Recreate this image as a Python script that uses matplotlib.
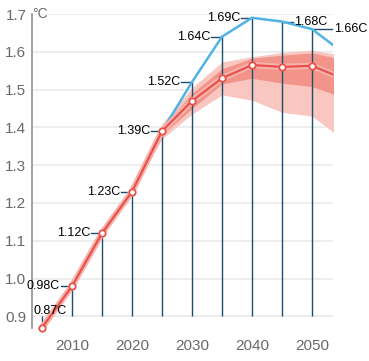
import matplotlib
matplotlib.use("Agg")
import matplotlib.pyplot as plt
from matplotlib.patches import Rectangle

plt.rcParams['font.family'] = ['Liberation Sans', 'DejaVu Sans']

# ---- data ----
years = [2005, 2010, 2015, 2020, 2025, 2030, 2035, 2040, 2045, 2050, 2055]
red_vals = [0.87, 0.98, 1.12, 1.23, 1.39, 1.47, 1.53, 1.565, 1.56, 1.563, 1.53]
blue_years = [2020, 2025, 2030, 2035, 2040, 2045, 2050, 2055]
blue_vals = [1.23, 1.39, 1.52, 1.64, 1.69, 1.68, 1.66, 1.60]
band_years = [2020, 2025, 2030, 2035, 2040, 2045, 2050, 2055]
inner_low = [1.23, 1.38, 1.45, 1.515, 1.53, 1.517, 1.508, 1.48]
inner_high = [1.23, 1.40, 1.49, 1.555, 1.583, 1.591, 1.597, 1.58]
outer_low = [1.23, 1.37, 1.435, 1.486, 1.472, 1.44, 1.43, 1.37]
outer_high = [1.23, 1.41, 1.505, 1.573, 1.587, 1.598, 1.605, 1.59]
label_years = [2005, 2010, 2015, 2020, 2025, 2030, 2035, 2040, 2045, 2050]
label_vals = [0.87, 0.98, 1.12, 1.23, 1.39, 1.52, 1.64, 1.69, 1.68, 1.66]
label_text = ['0.87C', '0.98C', '1.12C', '1.23C', '1.39C', '1.52C', '1.64C', '1.69C', '1.68C', '1.66C']
label_side = ['top', 'left', 'left', 'left', 'left', 'left', 'left', 'left', 'right', 'right']
yticks = [0.9, 1.0, 1.1, 1.2, 1.3, 1.4, 1.5, 1.6, 1.7]
xticks = [2010, 2020, 2030, 2040, 2050]

W, H = 369, 361
fig = plt.figure(figsize=(W / 100, H / 100), dpi=100)
ax = fig.add_axes([32 / W, 1 - 327.7 / H, (333 - 32) / W, (327.7 - 14) / H])
ax.set_xlim(2003.33, 2053.5)
ax.set_ylim(0.87, 1.7)

for s in ['top', 'right', 'bottom']:
    ax.spines[s].set_visible(False)
ax.spines['left'].set_color('#9a9a9a')
ax.spines['left'].set_linewidth(1.3)

for yv in yticks:
    ax.axhline(yv, color='#ececec', lw=1.3, zorder=0)

ax.set_yticks(yticks)
ax.set_yticklabels([f'{v:.1f}' for v in yticks])
ax.set_xticks(xticks)
ax.set_xticklabels([str(v) for v in xticks])
ax.tick_params(axis='both', length=0, labelsize=11, colors='#6a6a6a')
ax.tick_params(axis='y', pad=4)
ax.tick_params(axis='x', pad=8)

clip = Rectangle((0, -0.1), 1, 1.2, transform=ax.transAxes, facecolor='none',
                 edgecolor='none')
ax.add_patch(clip)

# bands
ax.fill_between(band_years, outer_low, outer_high, color='#f9c6c0', lw=0, zorder=1)
ax.fill_between(band_years, inner_low, inner_high, color='#f2948a', lw=0, zorder=2)

# annotation lines
navy = '#1d4e6c'
ax.vlines(label_years, 0.9, label_vals, color=navy, lw=1.0, zorder=3)

# blue line
ax.plot(blue_years, blue_vals, color='#4fb3e3', lw=1.8, zorder=4,
        solid_joinstyle='round')
# red halo + line
halo, = ax.plot(years, red_vals, color='#f6b3ad', lw=4.5, zorder=5)
line, = ax.plot(years, red_vals, color='#e8524a', lw=1.6, zorder=6)
halo.set_clip_path(clip)
line.set_clip_path(clip)
ax.plot(years[:-1], red_vals[:-1], 'o', ms=4.6, mfc='white', mec='#e8524a', mew=1.3,
        zorder=7, clip_on=False)

# labels
fs = 9
for x, v, t, side in zip(label_years, label_vals, label_text, label_side):
    if side == 'left':
        tl = 1.8
        ax.plot([x - tl, x], [v, v], color=navy, lw=1.0, zorder=3)
        ax.text(x - tl - 0.2, v, t, ha='right', va='center', fontsize=fs,
                color='black', zorder=8)
    elif side == 'right':
        tl = 1.8 if x == 2045 else 3.4
        ax.plot([x, x + tl], [v, v], color=navy, lw=1.0, zorder=3, clip_on=False)
        ax.text(x + tl + 0.2, v, t, ha='left', va='center', fontsize=fs,
                color='black', zorder=8, clip_on=False)
    else:
        ax.text(2003.5, 0.914, t, ha='left', va='center', fontsize=fs, color='black',
                zorder=8)

ax.text(2003.4, 1.7, '°C', ha='left', va='center', fontsize=10, color='#6a6a6a')

fig.savefig('out.png', dpi=100)
